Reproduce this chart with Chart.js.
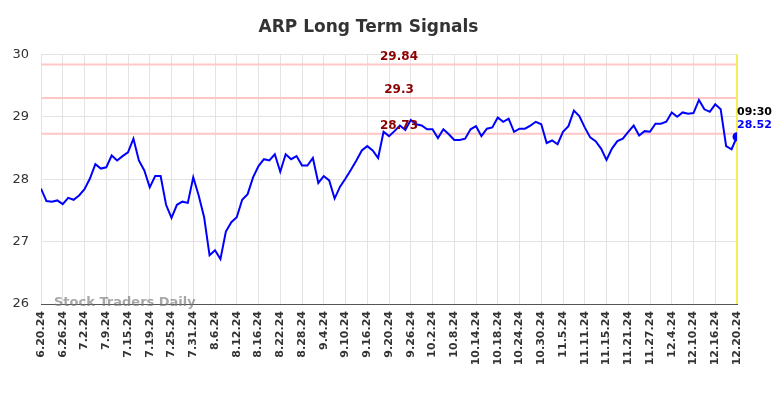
<!DOCTYPE html>
<html>
<head>
<meta charset="utf-8">
<title>ARP Long Term Signals</title>
<script src="https://cdn.jsdelivr.net/npm/chart.js@4.4.1/dist/chart.umd.min.js"></script>
<style>
    body { margin: 0; background: #fff; }
    #wrap { width: 784px; height: 398px; position: relative; }
</style>
</head>
<body>
<div id="wrap"><canvas id="graph1"></canvas></div>
<script>
// closing prices, one per trading day from 6.20.24 to 12.20.24
const prices = [
    27.85, 27.65, 27.64, 27.66, 27.60, 27.70, 27.67, 27.74, 27.84, 28.01,
    28.24, 28.17, 28.19, 28.38, 28.30, 28.37, 28.43, 28.65, 28.30, 28.14,
    27.87, 28.05, 28.05, 27.59, 27.38, 27.59, 27.64, 27.62, 28.03, 27.74,
    27.39, 26.78, 26.86, 26.72, 27.16, 27.31, 27.39, 27.67, 27.76, 28.03,
    28.21, 28.32, 28.30, 28.40, 28.12, 28.40, 28.32, 28.37, 28.22, 28.22,
    28.34, 27.94, 28.05, 27.98, 27.69, 27.88, 28.01, 28.15, 28.30, 28.46,
    28.53, 28.46, 28.34, 28.76, 28.69, 28.77, 28.86, 28.79, 28.95, 28.88,
    28.86, 28.80, 28.80, 28.66, 28.80, 28.72, 28.63, 28.63, 28.65, 28.80,
    28.85, 28.69, 28.81, 28.83, 28.99, 28.92, 28.97, 28.76, 28.81, 28.81,
    28.86, 28.92, 28.88, 28.58, 28.62, 28.56, 28.76, 28.85, 29.10, 29.01,
    28.83, 28.67, 28.61, 28.49, 28.31, 28.49, 28.61, 28.65, 28.76, 28.86,
    28.70, 28.77, 28.76, 28.89, 28.89, 28.92, 29.07, 29.00, 29.07, 29.05,
    29.06, 29.27, 29.12, 29.08, 29.20, 29.12, 28.53, 28.48, 28.68
];

// one label every 4 trading days
const tickLabels = [
    '6.20.24', '6.26.24', '7.2.24', '7.9.24', '7.15.24', '7.19.24', '7.25.24',
    '7.31.24', '8.6.24', '8.12.24', '8.16.24', '8.22.24', '8.28.24', '9.4.24',
    '9.10.24', '9.16.24', '9.20.24', '9.26.24', '10.2.24', '10.8.24', '10.14.24',
    '10.18.24', '10.24.24', '10.30.24', '11.5.24', '11.11.24', '11.15.24',
    '11.21.24', '11.27.24', '12.4.24', '12.10.24', '12.16.24', '12.20.24'
];

const signalLevels = [29.84, 29.3, 28.73];
const signalTexts = ['29.84', '29.3', '28.73'];
const lastTime = '09:30';
const lastPrice = '28.52';
const yTicks = [26, 27, 28, 29, 30];

const FONT = "'DejaVu Sans', sans-serif";

// signal lines, yellow marker, labels and watermark
const signalsPlugin = {
    id: 'signals',
    beforeDatasetsDraw(chart) {
        const { ctx, chartArea, scales } = chart;
        ctx.save();
        ctx.strokeStyle = '#ffc6c6';
        ctx.lineWidth = 2;
        signalLevels.forEach(level => {
            const y = scales.y.getPixelForValue(level);
            ctx.beginPath();
            ctx.moveTo(chartArea.left, y);
            ctx.lineTo(chartArea.right, y);
            ctx.stroke();
        });
        const xLast = scales.x.getPixelForValue(prices.length - 1);
        ctx.strokeStyle = '#f4ee5a';
        ctx.lineWidth = 2;
        ctx.beginPath();
        ctx.moveTo(xLast, chartArea.top);
        ctx.lineTo(xLast, chartArea.bottom);
        ctx.stroke();
        ctx.restore();
    },
    afterDatasetsDraw(chart) {
        const { ctx, chartArea, scales } = chart;
        ctx.save();
        ctx.font = 'bold 12px ' + FONT;
        ctx.fillStyle = '#8b0000';
        ctx.textAlign = 'center';
        ctx.textBaseline = 'bottom';
        signalLevels.forEach((level, i) => {
            const y = scales.y.getPixelForValue(level);
            ctx.fillText(signalTexts[i], 399, y - 2);
        });
        const xLast = scales.x.getPixelForValue(prices.length - 1);
        ctx.textAlign = 'left';
        ctx.textBaseline = 'middle';
        ctx.font = 'bold 11px ' + FONT;
        ctx.fillStyle = '#000';
        ctx.fillText(lastTime, xLast, 112);
        ctx.fillStyle = '#0000ff';
        ctx.fillText(lastPrice, xLast, 125);
        // watermark
        ctx.font = 'bold 13px ' + FONT;
        ctx.fillStyle = 'rgba(120, 120, 120, 0.65)';
        ctx.textBaseline = 'middle';
        ctx.fillText('Stock Traders Daily', 54, chartArea.bottom - 1);
        ctx.restore();
    }
};

function generateChart() {
    const ctx = document.getElementById('graph1').getContext('2d');
    const lastIndex = prices.length - 1;
    new Chart(ctx, {
        type: 'line',
        data: {
            datasets: [{
                label: 'ARP',
                data: prices.map((p, i) => ({ x: i, y: p })),
                borderColor: '#0000ff',
                backgroundColor: '#0000ff',
                borderWidth: 2,
                tension: 0,
                pointRadius: prices.map((p, i) => i === lastIndex ? 3.5 : 0),
                pointHoverRadius: 0
            }]
        },
        options: {
            responsive: true,
            maintainAspectRatio: false,
            animation: false,
            layout: { padding: { left: 0, right: 47, top: 0, bottom: 0 } },
            plugins: {
                legend: { display: false },
                tooltip: { enabled: false },
                title: {
                    display: true,
                    text: 'ARP Long Term Signals',
                    color: '#333',
                    font: { family: FONT, size: 17, weight: 'bold' },
                    padding: { top: 17, bottom: 17 }
                }
            },
            scales: {
                x: {
                    type: 'linear',
                    min: 0,
                    max: lastIndex,
                    afterFit: scale => { scale.height = 94; },
                    grid: { color: '#e3e3e3', drawTicks: false },
                    border: { color: '#555', width: 1 },
                    ticks: {
                        stepSize: 4,
                        autoSkip: false,
                        maxRotation: 90,
                        minRotation: 90,
                        padding: 7,
                        color: '#333',
                        font: { family: FONT, size: 11, weight: 'bold' },
                        callback: v => tickLabels[v / 4]
                    }
                },
                y: {
                    min: 26,
                    max: 30,
                    afterFit: scale => { scale.width = 41; },
                    afterBuildTicks: scale => { scale.ticks = yTicks.map(v => ({ value: v })); },
                    grid: { color: '#e3e3e3', drawTicks: false },
                    border: { display: false },
                    ticks: {
                        padding: 12,
                        color: '#333',
                        font: { family: FONT, size: 13 }
                    }
                }
            }
        },
        plugins: [signalsPlugin]
    });
}

document.addEventListener('DOMContentLoaded', function () {
    generateChart();
});
</script>
</body>
</html>
